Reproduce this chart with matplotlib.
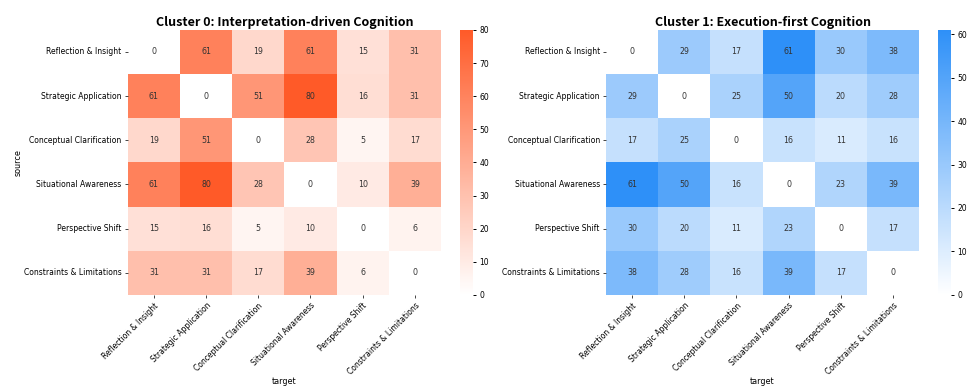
import numpy as np
import matplotlib
matplotlib.use('Agg')
import matplotlib.pyplot as plt
import seaborn as sns
from matplotlib.colors import LinearSegmentedColormap

labels = ['Reflection & Insight', 'Strategic Application', 'Conceptual Clarification',
          'Situational Awareness', 'Perspective Shift', 'Constraints & Limitations']

cluster0 = np.array([
    [0, 61, 19, 61, 15, 31],
    [61, 0, 51, 80, 16, 31],
    [19, 51, 0, 28, 5, 17],
    [61, 80, 28, 0, 10, 39],
    [15, 16, 5, 10, 0, 6],
    [31, 31, 17, 39, 6, 0],
])

cluster1 = np.array([
    [0, 29, 17, 61, 30, 38],
    [29, 0, 25, 50, 20, 28],
    [17, 25, 0, 16, 11, 16],
    [61, 50, 16, 0, 23, 39],
    [30, 20, 11, 23, 0, 17],
    [38, 28, 16, 39, 17, 0],
])

titles = ['Cluster 0: Interpretation-driven Cognition', 'Cluster 1: Execution-first Cognition']

orange = LinearSegmentedColormap.from_list('orange', ['#ffffff', '#ff5a28'])
blue = LinearSegmentedColormap.from_list('blue', ['#ffffff', '#2e90f8'])

fs = 5.5

fig = plt.figure(figsize=(9.69, 3.88), dpi=100)
ax0 = fig.add_axes([0.132, 0.240, 0.323, 0.683])
cax0 = fig.add_axes([0.4747, 0.240, 0.0134, 0.683])
ax1 = fig.add_axes([0.6254, 0.240, 0.323, 0.683])
cax1 = fig.add_axes([0.968, 0.240, 0.0134, 0.683])

panels = [(ax0, cax0, cluster0, orange, 80), (ax1, cax1, cluster1, blue, 61)]
for i, (ax, cax, data, cmap, vmax) in enumerate(panels):
    sns.heatmap(data, ax=ax, cbar_ax=cax, cmap=cmap, vmin=0, vmax=vmax,
                annot=True, fmt='d', annot_kws={'fontsize': fs + 0.2, 'color': '#333333'},
                xticklabels=labels, yticklabels=labels)
    ax.set_title(titles[i], fontsize=9, fontweight='bold',
                 family=['Noto Sans CJK SC', 'DejaVu Sans'], pad=3)
    ax.set_xticklabels(labels, rotation=45, ha='right', rotation_mode='anchor', fontsize=fs)
    ax.set_yticklabels(labels, rotation=0, fontsize=fs)
    ax.tick_params(length=2.5, width=0.7, color='#444444', pad=2)
    ax.set_xlabel('target', fontsize=fs + 0.3, labelpad=0.5)
    ax.set_yticks(np.arange(len(labels)) + 0.5)
    cax.set_yticks(np.arange(0, vmax + 1, 10))
    cax.tick_params(labelsize=fs, length=2.5, width=0.7, pad=2)
    if i == 0:
        ax.set_ylabel('source', fontsize=fs + 0.3, labelpad=1)
    else:
        ax.set_ylabel('')

fig.savefig('out.png', dpi=100)
